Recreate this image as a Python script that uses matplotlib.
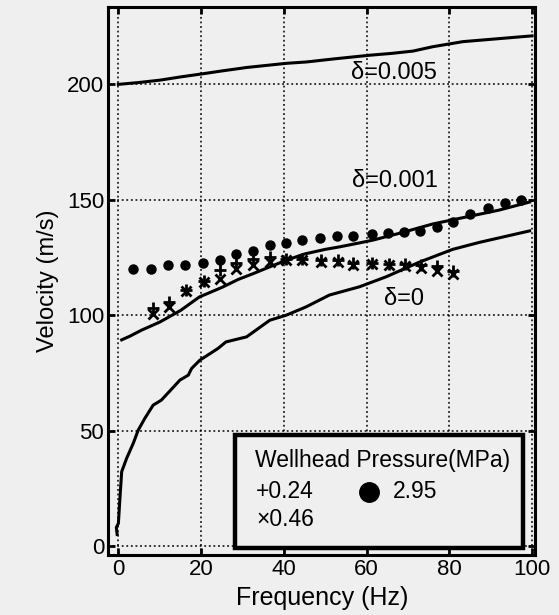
import matplotlib
matplotlib.use("Agg")
import matplotlib.pyplot as plt
from matplotlib.patches import Rectangle

plt.rcParams['font.family'] = ['Liberation Sans', 'DejaVu Sans']

# theoretical curves (frequency Hz, velocity m/s)
f_d005 = [0, 2, 5, 10, 15, 20.5, 25, 31, 40.6, 45.5, 52, 60.7, 66, 71.2, 76, 83.3, 90, 100]
v_d005 = [200, 200.3, 200.8, 201.8, 203.2, 204.6, 205.8, 207.3, 209.1, 209.7, 211, 212.6,
          213.4, 214.4, 216.3, 218.5, 219.5, 221]

f_d001 = [0.8, 2.8, 5.6, 10, 15, 19.6, 25, 29, 32.6, 36, 40.6, 45, 50, 53.5, 58, 61.5,
          68, 76, 84, 92, 99.4]
v_d001 = [89.3, 90.9, 93.5, 97, 102, 107.9, 112, 115.5, 118, 120.5, 123.8, 126.5, 128.5,
          129.6, 131.2, 132.5, 135.5, 139.5, 142.5, 145.5, 149]

f_d0 = [-0.3, -0.5, 0, 0.4, 0.8, 2.0, 3.6, 4.8, 6.4, 8.4, 10.4, 14.9, 16.9, 17.7, 19.7,
        24.1, 26, 31, 36.6, 40.6, 45.4, 51, 58.3, 64.7, 72.8, 80.8, 87.2, 99.4]
v_d0 = [5, 8, 9.8, 21.3, 32.2, 38, 44.5, 50.2, 55.3, 61, 63.2, 71.9, 74, 76.9, 80.5,
        85.6, 88.4, 90.6, 97.8, 100, 103.6, 108.7, 112.3, 116.6, 123, 128.5, 131.5, 136.5]

# measured data
f_295 = [3.6, 8.0, 12.0, 16.1, 20.5, 24.5, 28.5, 32.6, 36.6, 40.5, 44.3, 48.7, 52.8, 56.7,
         61.4, 65.2, 69.1, 73.0, 77.0, 80.9, 84.9, 89.3, 93.4, 97.4]
v_295 = [120.0, 119.8, 121.9, 121.9, 122.8, 124.0, 126.7, 127.7, 130.6, 131.4, 132.5, 133.6,
         134.3, 134.3, 135.0, 135.4, 136.0, 136.6, 138.3, 140.2, 144.0, 146.5, 148.7, 150.0]

f_low = [8.3, 12.3, 16.3, 20.6, 24.5, 28.5, 32.6, 36.6, 40.4, 44.3, 48.9, 53.0, 56.8,
         61.4, 65.3, 69.2, 73.1, 77.1, 80.9]
v_046 = [100.7, 103.5, 110.5, 114.4, 115.5, 120.0, 121.6, 123.0, 123.8, 124.1, 123.1, 123.1,
         121.6, 122.2, 121.6, 121.5, 120.3, 119.3, 117.8]
v_024 = [103.0, 105.5, 111.0, 115.0, 119.5, 122.5, 124.3, 125.0, 124.5, 124.5, 123.8, 123.8,
         122.5, 122.8, 122.2, 122.0, 121.8, 121.5, 119.0]

bg = '#efefef'
fig = plt.figure(figsize=(5.59, 6.15), dpi=100, facecolor=bg)
ax = fig.add_axes([0.194, 0.0976, 0.763, 0.891], facecolor=bg)

lw = 2.2
ax.plot(f_d005, v_d005, color='black', lw=lw)
ax.plot(f_d001, v_d001, color='black', lw=lw)
ax.plot(f_d0, v_d0, color='black', lw=lw)

ax.plot(f_295, v_295, 'o', color='black', ms=6.5, ls='none')
ax.plot(f_low, v_046, 'x', color='black', ms=7, mew=2, ls='none')
ax.plot(f_low, v_024, '+', color='black', ms=8, mew=2, ls='none')

ax.text(66.5, 205, 'δ=0.005', fontsize=17, ha='center', va='center')
ax.text(66.8, 158, 'δ=0.001', fontsize=17, ha='center', va='center')
ax.text(69, 107, 'δ=0', fontsize=17, ha='center', va='center')

ax.set_xlim(-2.4, 100.7)
ax.set_ylim(-3.9, 233.5)
ax.set_xticks([0, 20, 40, 60, 80, 100])
ax.set_yticks([0, 50, 100, 150, 200])
ax.grid(True, color='black', linestyle=(0, (1.2, 1.8)), linewidth=1.1)
ax.tick_params(direction='in', length=5, width=2, labelsize=16, pad=3,
               top=True, right=True)
for s in ax.spines.values():
    s.set_linewidth(2.2)

ax.set_xlabel('Frequency (Hz)', fontsize=18, labelpad=4)
ax.set_ylabel('Velocity (m/s)', fontsize=17, labelpad=6)

# legend box
ax.add_patch(Rectangle((28.1, -0.9), 69.6, 48.9, fc=bg, ec='black', lw=3.2, zorder=5))
ax.text(33, 37.2, 'Wellhead Pressure(MPa)', fontsize=16.5, ha='left', va='center', zorder=6)
ax.text(33.3, 23.4, '+0.24', fontsize=16.5, ha='left', va='center', zorder=6)
ax.text(33.3, 11.3, '×0.46', fontsize=16.5, ha='left', va='center', zorder=6)
ax.plot([60.7], [23.4], 'o', color='black', ms=14, zorder=6)
ax.text(66.3, 23.4, '2.95', fontsize=16.5, ha='left', va='center', zorder=6)

fig.savefig('out.png', dpi=100, facecolor=bg)
